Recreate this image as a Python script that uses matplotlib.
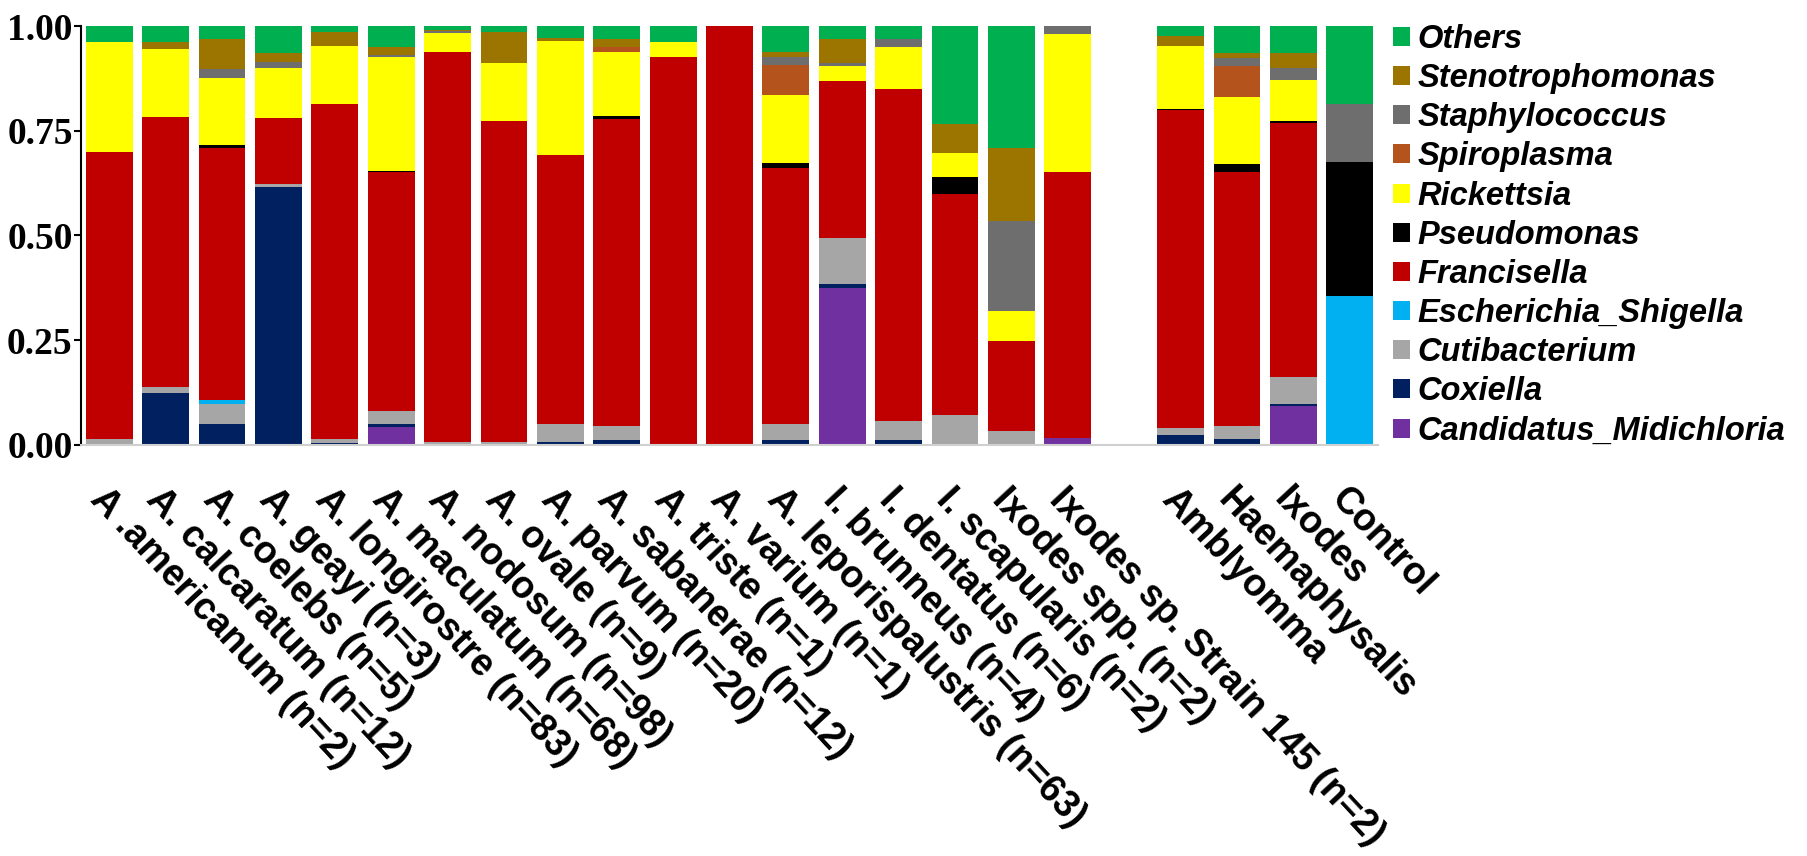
import matplotlib
matplotlib.use("Agg")
import matplotlib.pyplot as plt
from matplotlib.patches import Patch
import numpy as np

categories = [
    "A .americanum (n=2)", "A. calcaratum (n=12)", "A. coelebs (n=5)", "A. geayi (n=3)",
    "A. longirostre (n=83)", "A. maculatum (n=68)", "A. nodosum (n=98)", "A. ovale (n=9)",
    "A. parvum (n=20)", "A. sabanerae (n=12)", "A. triste (n=1)", "A. varium (n=1)",
    "A. leporispalustris (n=63)", "I. brunneus (n=4)", "I. dentatus (n=6)",
    "I. scapularis (n=2)", "Ixodes spp. (n=2)", "Ixodes sp. Strain 145 (n=2)",
]
group_categories = ["Amblyomma", "Haemaphysalis", "Ixodes", "Control"]

# bottom -> top stacking order
taxa = ["Candidatus_Midichloria", "Coxiella", "Cutibacterium", "Escherichia_Shigella",
        "Francisella", "Pseudomonas", "Rickettsia", "Spiroplasma", "Staphylococcus",
        "Stenotrophomonas", "Others"]

midichloria = [0, 0, 0, 0, 0, 0.043, 0, 0, 0, 0, 0, 0, 0, 0.374, 0, 0, 0, 0.016, 0, 0, 0.093, 0]
coxiella = [0, 0.125, 0.049, 0.615, 0.004, 0.007, 0, 0, 0.008, 0.012, 0, 0, 0.012, 0.010, 0.012, 0, 0, 0, 0.024, 0.014, 0.006, 0]
cutibacterium = [0.015, 0.013, 0.050, 0.009, 0.010, 0.032, 0.006, 0.008, 0.041, 0.034, 0, 0, 0.037, 0.109, 0.046, 0.072, 0.033, 0, 0.016, 0.032, 0.063, 0]
escherichia = [0, 0, 0.008, 0, 0, 0, 0, 0, 0, 0, 0, 0, 0, 0, 0, 0, 0, 0, 0, 0, 0, 0.355]
francisella = [0.685, 0.645, 0.601, 0.156, 0.800, 0.569, 0.933, 0.766, 0.643, 0.732, 0.925, 1.0, 0.611, 0.376, 0.791, 0.528, 0.215, 0.635, 0.760, 0.606, 0.606, 0]
pseudomonas = [0, 0, 0.009, 0, 0, 0.003, 0, 0, 0, 0.008, 0, 0, 0.014, 0, 0, 0.040, 0, 0, 0.003, 0.018, 0.006, 0.321]
rickettsia = [0.261, 0.162, 0.160, 0.120, 0.139, 0.273, 0.044, 0.137, 0.273, 0.153, 0.038, 0, 0.161, 0.035, 0.100, 0.056, 0.071, 0.330, 0.149, 0.161, 0.097, 0]
spiroplasma = [0, 0, 0, 0, 0, 0, 0, 0, 0, 0.012, 0, 0, 0.072, 0, 0, 0, 0, 0, 0, 0.073, 0, 0]
staphylococcus = [0, 0, 0.020, 0.013, 0, 0.004, 0.004, 0, 0, 0, 0, 0, 0.020, 0.007, 0.019, 0, 0.215, 0.019, 0, 0.019, 0.028, 0.139]
stenotrophomonas = [0, 0.016, 0.071, 0.022, 0.032, 0.020, 0.004, 0.074, 0.007, 0.017, 0, 0, 0.012, 0.057, 0, 0.070, 0.174, 0, 0.024, 0.013, 0.036, 0]
others = [0.039, 0.039, 0.032, 0.065, 0.015, 0.049, 0.009, 0.015, 0.028, 0.032, 0.037, 0, 0.061, 0.032, 0.032, 0.234, 0.292, 0, 0.024, 0.064, 0.065, 0.185]

series = [midichloria, coxiella, cutibacterium, escherichia, francisella, pseudomonas,
          rickettsia, spiroplasma, staphylococcus, stenotrophomonas, others]
colors = ["#7030A0", "#002060", "#A6A6A6", "#00B0F0", "#C00000", "#000000",
          "#FFFF00", "#B4531C", "#6E6E6E", "#9C7400", "#00B050"]

y_ticks = [0.00, 0.25, 0.50, 0.75, 1.00]
y_tick_labels = ["0.00", "0.25", "0.50", "0.75", "1.00"]

W, H = 1808, 856
fig = plt.figure(figsize=(W / 100, H / 100), dpi=100)
ax = fig.add_axes([81 / W, 1 - 445 / H, (1378 - 81) / W, (445 - 26) / H])

labels = categories + group_categories
positions = list(range(len(categories))) + [len(categories) + 1 + i for i in range(len(group_categories))]
pos = np.array(positions, dtype=float)

bottom = np.zeros(len(labels))
for vals, col, name in zip(series, colors, taxa):
    v = np.array(vals)
    ax.bar(pos, v, width=0.83, bottom=bottom, color=col, edgecolor="none", label=name)
    bottom += v

ax.set_xlim(-0.5, pos[-1] + 0.5)
ax.set_ylim(0, 1.0)

for s in ["top", "right"]:
    ax.spines[s].set_visible(False)
ax.spines["left"].set_color("black")
ax.spines["left"].set_linewidth(1.5)
ax.spines["bottom"].set_color("#D0D0D0")
ax.spines["bottom"].set_linewidth(1.5)

ax.set_yticks(y_ticks)
ax.set_yticklabels(y_tick_labels, fontfamily="Liberation Serif", fontweight="bold", fontsize=27)
ax.tick_params(axis="y", length=5, width=1.5, pad=1, color="black")

ax.set_xticks(pos)
ax.set_xticklabels(labels, rotation=-47, ha="left", va="top", rotation_mode="anchor",
                   fontfamily="Liberation Sans", fontweight="bold", fontsize=27)
ax.tick_params(axis="x", length=0, pad=26)

handles = [Patch(facecolor=c, edgecolor="none") for c in colors][::-1]
leg_labels = taxa[::-1]
leg = fig.legend(handles, leg_labels, loc="upper left", bbox_to_anchor=(1393 / W, 1 - 24 / H),
                 frameon=False, borderpad=0, borderaxespad=0, handlelength=0.52, handleheight=0.52,
                 handletextpad=0.24, labelspacing=0.25,
                 prop={"family": "Liberation Sans", "weight": "bold", "style": "italic", "size": 23.5})

fig.savefig("out.png", dpi=100, facecolor="white")
